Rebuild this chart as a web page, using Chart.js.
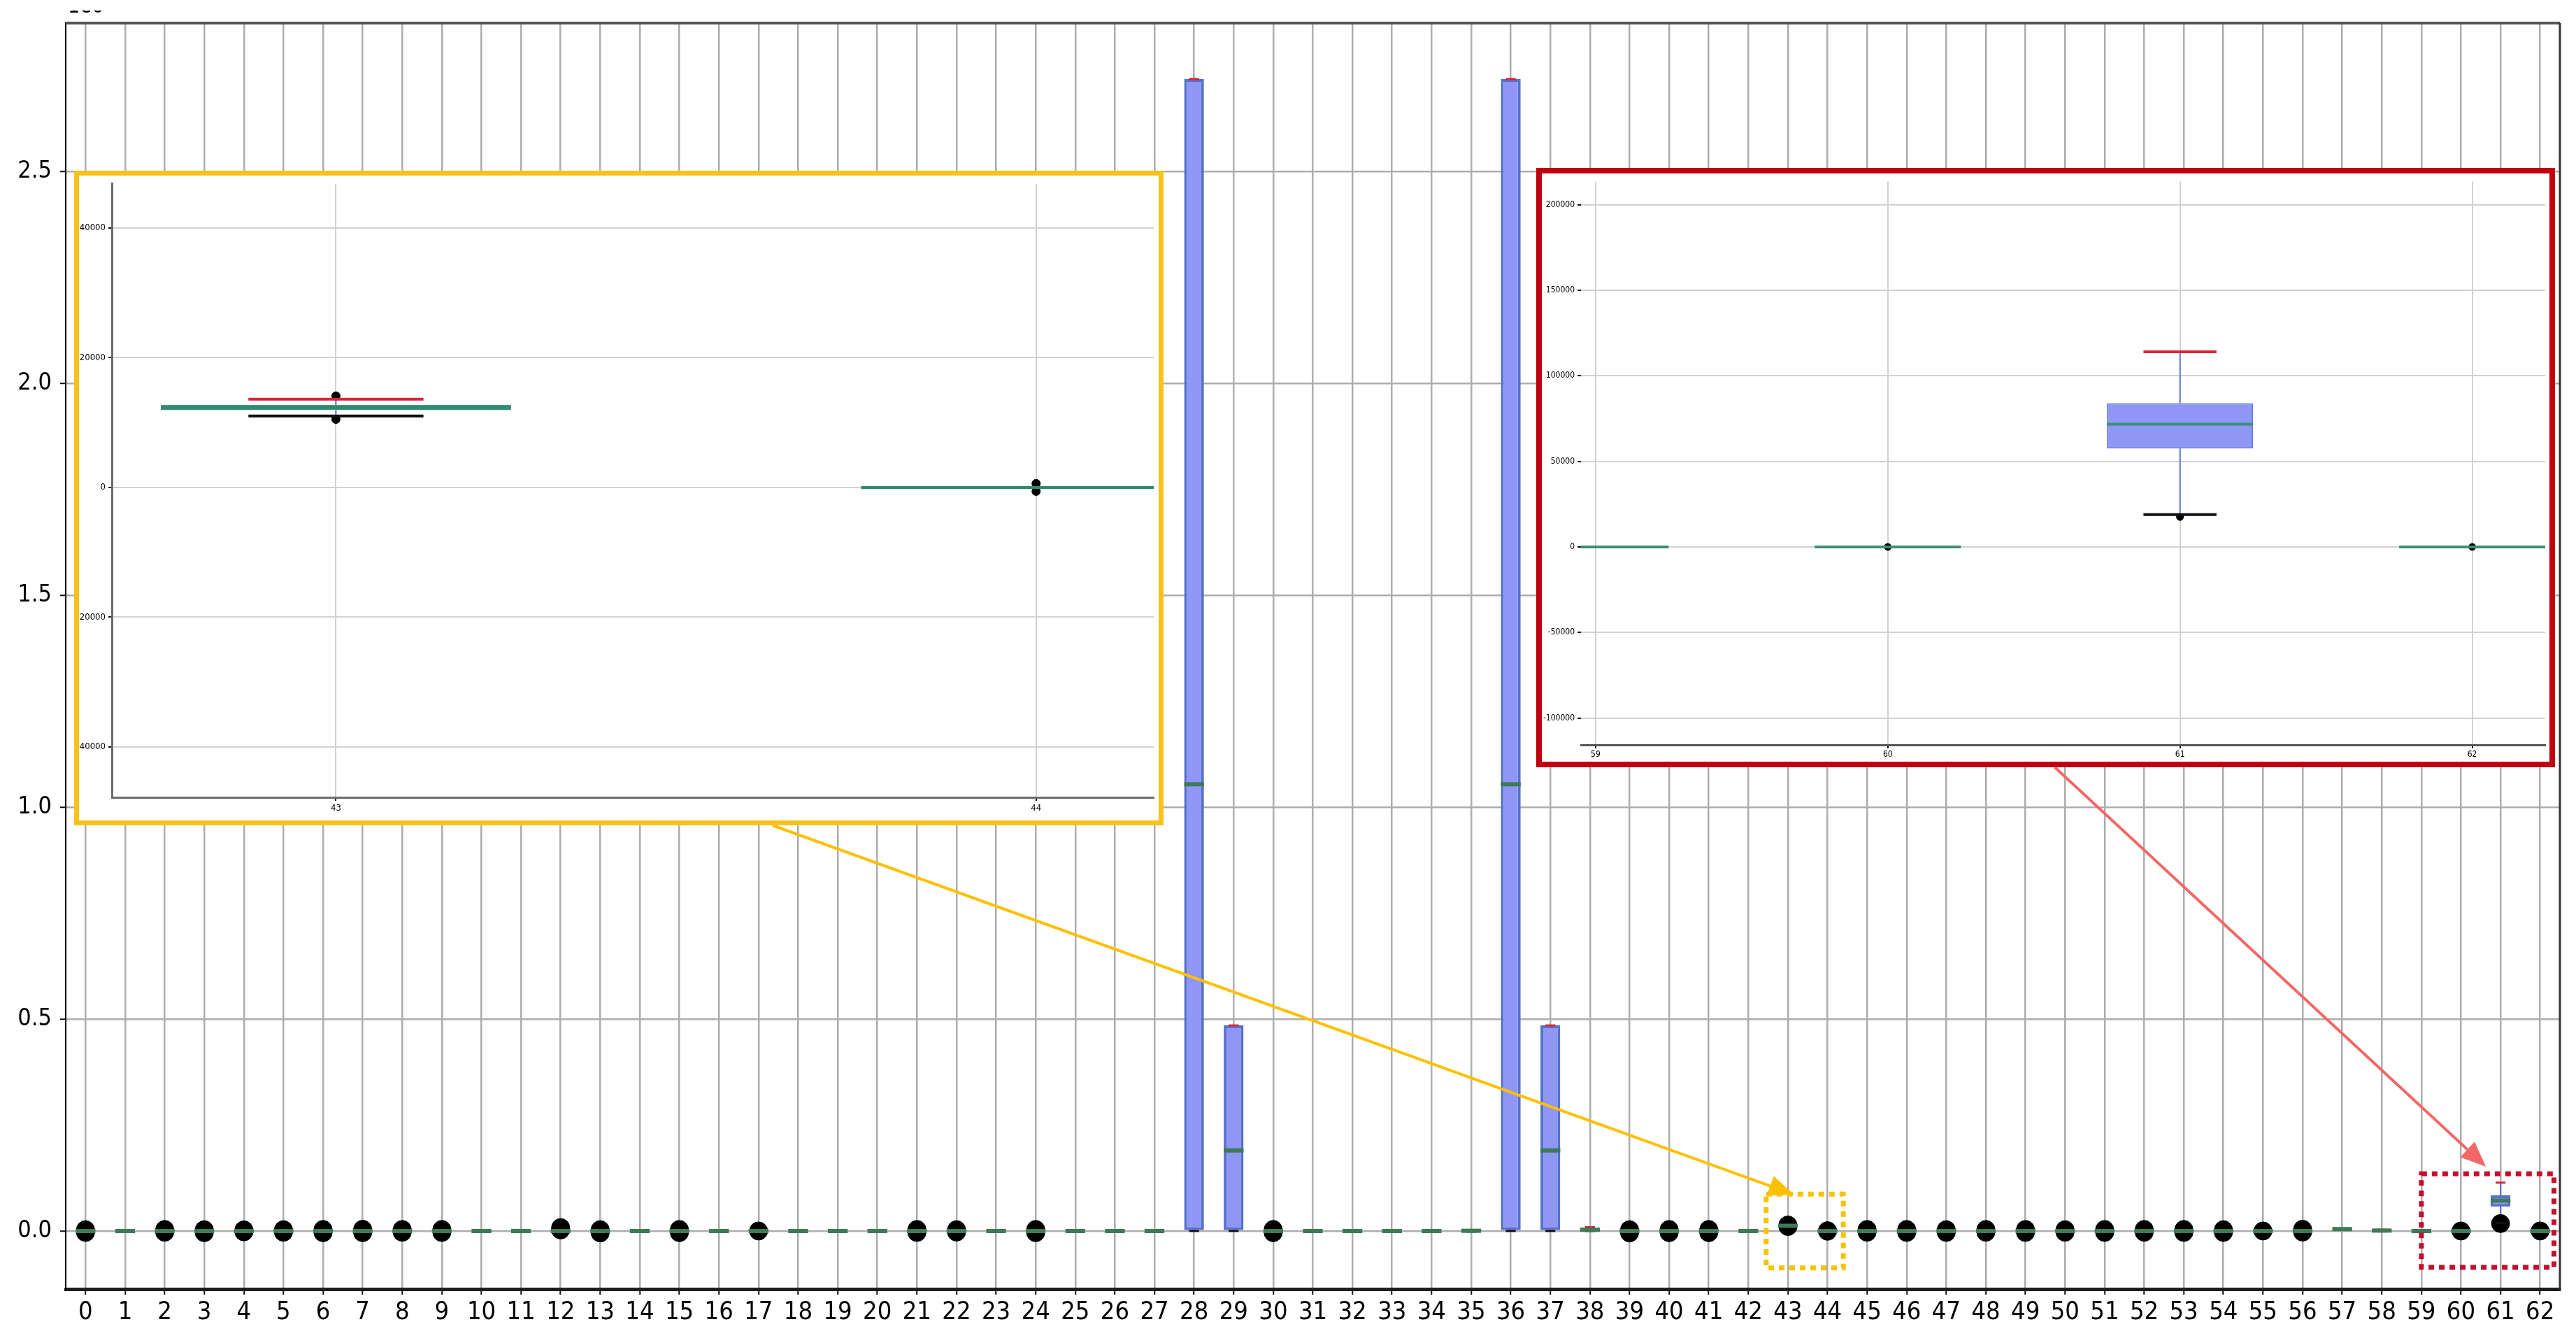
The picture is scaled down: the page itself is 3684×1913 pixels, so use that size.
<!DOCTYPE html>
<html>
<head>
<meta charset="utf-8">
<script src="https://cdn.jsdelivr.net/npm/chart.js@4.4.1/dist/chart.umd.min.js"></script>
<style>
  html, body { margin: 0; padding: 0; background: #fff; }
  #wrap { position: relative; width: 3684px; height: 1913px; overflow: hidden; }
  #main { position: absolute; left: 0; top: 0; }
  .inset { position: absolute; background: #fff; box-sizing: border-box; }
  .inset canvas { display: block; }
</style>
</head>
<body>
<div id="wrap">
  <canvas id="main" width="3684" height="1913"></canvas>
  <div class="inset" id="yellowBox"><canvas id="yellow"></canvas></div>
  <div class="inset" id="redBox"><canvas id="red"></canvas></div>
</div>
<script>
// categories on the x axis
const categories = [0,1,2,3,4,5,6,7,8,9,10,11,12,13,14,15,16,17,18,19,20,
  21,22,23,24,25,26,27,28,29,30,31,32,33,34,35,36,37,38,39,40,41,
  42,43,44,45,46,47,48,49,50,51,52,53,54,55,56,57,58,59,60,61,62];

// box statistics per category
const q1 = [0,0,0,0,0,0,0,0,0,0,0,0,0,0,0,0,0,0,0,0,0,
  0,0,0,0,0,0,0,0,0,0,0,0,0,0,-1500,0,0,0,0,0,0,
  0,11900,0,0,0,0,0,0,0,0,0,0,0,0,0,4000,-1000,0,0,57500,0];
const med = [0,0,0,0,0,0,0,0,0,0,0,0,0,0,0,0,0,0,0,0,0,
  0,0,0,0,0,0,0,1054000,190000,0,0,0,0,0,500,1054000,190000,3000,0,0,0,
  0,12300,0,0,0,0,0,0,0,0,0,0,0,0,0,4500,1000,0,0,71700,0];
const q3 = [0,0,0,0,0,0,0,0,0,0,0,0,0,0,0,0,0,0,0,0,0,
  0,0,0,0,0,0,0,2718000,485000,0,0,0,0,0,2500,2718000,485000,6000,0,0,0,
  0,12700,0,0,0,0,0,0,0,0,0,0,0,0,0,5000,3000,0,0,84000,0];
const whiskerLo = [0,0,0,0,0,0,0,0,0,0,0,0,0,0,0,0,0,0,0,0,0,
  0,0,0,0,0,0,0,0,0,0,0,0,0,0,-1500,0,0,0,0,0,0,
  0,11000,0,0,0,0,0,0,0,0,0,0,0,0,0,4000,-1000,0,0,18900,0];
const whiskerHi = [0,0,0,0,0,0,0,0,0,0,0,0,0,0,0,0,0,0,0,0,0,
  0,0,0,0,0,0,0,2718000,485000,0,0,0,0,0,2500,2718000,485000,9000,0,0,0,
  0,13600,0,0,0,0,0,0,0,0,0,0,0,0,0,5000,3000,0,0,114000,0];

// outliers per category
const fliers = [
  [-3500, 3000], [], [-3000, 3500], [-4000, 3000], [-2000, 2500], [-3000, 3000],
  [-4000, 3500], [-4000, 4000], [-3000, 3500], [-3500, 3500], [], [],
  [2500, 8000], [-4500, 3000], [], [-4000, 3500], [], [0], [], [], [],
  [-3500, 3500], [-2500, 3000], [], [-4000, 3500], [], [], [], [], [],
  [-4000, 3500], [], [], [], [], [], [], [], [],
  [-4500, 3000], [-4000, 3500], [-4000, 3500], [], [10500, 14100], [-600, 600],
  [-3000, 3500], [-3500, 3500], [-3500, 3000], [-3000, 3500], [-3500, 3500],
  [-3000, 3000], [-3500, 3500], [-3000, 3500], [-3500, 3500], [-3500, 3000],
  [0], [-2500, 4000], [], [], [], [0], [17500], [0]
];

// tick values
const mainYTicks = [0, 500000, 1000000, 1500000, 2000000, 2500000];
const yellowYTicks = [-40000, -20000, 0, 20000, 40000];
const redYTicks = [-100000, -50000, 0, 50000, 100000, 150000, 200000];

// zoomed regions marked on the main chart
const zoomRegions = [
  { inset: 'yellow', x0: 42.45, x1: 44.4, y0: -87000, y1: 87000, tipX: 43.15, tipY: 86000, from: 0.641,
    color: '#f5c400', arrow: '#ffc000' },
  { inset: 'red', x0: 59.0, x1: 62.35, y0: -86000, y1: 135000, tipX: 60.63, tipY: 152000, from: 0.509,
    color: '#c2102c', arrow: '#f26868' }
];

const insetLayout = {
  yellow: { left: 106, top: 244, width: 1558, height: 936, border: 7, color: '#f7c21a' },
  red: { left: 2197, top: 240, width: 1457, height: 857, border: 8, color: '#c00010' }
};

const labelFamily = '"DejaVu Sans", sans-serif';

Object.keys(insetLayout).forEach(k => {
  const L = insetLayout[k];
  const box = document.getElementById(k + 'Box');
  box.style.left = L.left + 'px';
  box.style.top = L.top + 'px';
  box.style.width = L.width + 'px';
  box.style.height = L.height + 'px';
  box.style.border = L.border + 'px solid ' + L.color;
  const c = document.getElementById(k);
  c.width = L.width - 2 * L.border;
  c.height = L.height - 2 * L.border;
});

// whiskers, caps and medians drawn through the chart scales
const boxParts = {
  id: 'boxParts',
  beforeDatasetsDraw(chart, args, o) {
    const { ctx, chartArea: a, scales: { x, y } } = chart;
    ctx.save();
    ctx.beginPath(); ctx.rect(a.left, a.top, a.width, a.height); ctx.clip();
    ctx.strokeStyle = o.whiskerColor;
    ctx.lineWidth = o.whiskerWidth;
    o.shown.forEach(i => {
      const px = x.getPixelForValue(categories[i]);
      ctx.beginPath();
      ctx.moveTo(px, y.getPixelForValue(q3[i])); ctx.lineTo(px, y.getPixelForValue(whiskerHi[i]));
      ctx.moveTo(px, y.getPixelForValue(q1[i])); ctx.lineTo(px, y.getPixelForValue(whiskerLo[i]));
      ctx.stroke();
    });
    ctx.restore();
  },
  afterDatasetsDraw(chart, args, o) {
    const { ctx, chartArea: a, scales: { x, y } } = chart;
    ctx.save();
    ctx.beginPath(); ctx.rect(a.left, a.top, a.width, a.height); ctx.clip();
    const hline = (c, v, half, color, w) => {
      ctx.strokeStyle = color; ctx.lineWidth = w;
      ctx.beginPath();
      ctx.moveTo(x.getPixelForValue(c - half), y.getPixelForValue(v));
      ctx.lineTo(x.getPixelForValue(c + half), y.getPixelForValue(v));
      ctx.stroke();
    };
    o.shown.forEach(i => {
      const c = categories[i];
      hline(c, whiskerLo[i], 0.125, '#111111', o.capWidth);
      hline(c, whiskerHi[i], 0.125, '#d8263a', o.capWidth);
      hline(c, med[i], 0.25, o.medianColor, o.medianWidth);
    });
    ctx.restore();
  }
};

function drawArrow(ctx, sx, sy, ex, ey, color, width, head) {
  const ang = Math.atan2(ey - sy, ex - sx);
  const bx = ex - head * Math.cos(ang), by = ey - head * Math.sin(ang);
  ctx.strokeStyle = color; ctx.lineWidth = width;
  ctx.beginPath(); ctx.moveTo(sx, sy); ctx.lineTo(bx, by); ctx.stroke();
  ctx.fillStyle = color;
  ctx.beginPath();
  ctx.moveTo(ex, ey);
  ctx.lineTo(bx + head * 0.42 * Math.sin(ang), by - head * 0.42 * Math.cos(ang));
  ctx.lineTo(bx - head * 0.42 * Math.sin(ang), by + head * 0.42 * Math.cos(ang));
  ctx.closePath(); ctx.fill();
}

// frame, offset text, dashed zoom boxes and arrows of the main chart
const mainExtras = {
  id: 'mainExtras',
  afterDraw(chart) {
    const { ctx, chartArea: a, scales: { x, y } } = chart;
    ctx.save();
    ctx.strokeStyle = '#555'; ctx.lineWidth = 4;
    ctx.beginPath(); ctx.moveTo(a.left, a.top); ctx.lineTo(a.right, a.top); ctx.stroke();
    ctx.lineWidth = 3; ctx.strokeStyle = '#333';
    ctx.beginPath(); ctx.moveTo(a.right, a.top); ctx.lineTo(a.right, a.bottom); ctx.stroke();

    ctx.save();
    ctx.beginPath(); ctx.rect(0, 15, 400, 18); ctx.clip();
    ctx.fillStyle = '#000';
    ctx.font = 'condensed 30px ' + labelFamily;
    ctx.textBaseline = 'bottom';
    ctx.fillText('1e6', a.left + 3, 25);
    ctx.restore();

    zoomRegions.forEach(r => {
      const l = x.getPixelForValue(r.x0), rt = x.getPixelForValue(r.x1);
      const t = y.getPixelForValue(r.y1), b = y.getPixelForValue(r.y0);
      ctx.save();
      ctx.setLineDash([8, 7]);
      ctx.lineWidth = 7; ctx.strokeStyle = r.color;
      ctx.strokeRect(l, t, rt - l, b - t);
      ctx.restore();
      const L = insetLayout[r.inset];
      drawArrow(ctx, L.left + r.from * L.width, L.top + L.height,
        x.getPixelForValue(r.tipX), y.getPixelForValue(r.tipY), r.arrow, 4, 36);
    });
    ctx.restore();
  }
};

function boxChart(canvasId, cfg) {
  const shown = categories.map((c, i) => i).filter(i => categories[i] >= cfg.xMin - 1 && categories[i] <= cfg.xMax + 1);
  const flierPoints = [];
  shown.forEach(i => fliers[i].forEach(v => flierPoints.push({ x: categories[i], y: v })));
  return new Chart(document.getElementById(canvasId), {
    type: 'bar',
    data: {
      datasets: [
        {
          type: 'bar',
          data: shown.map(i => ({ x: categories[i], y: [q1[i], q3[i]] })),
          backgroundColor: cfg.boxFill,
          borderColor: cfg.boxEdge,
          borderWidth: cfg.boxEdgeWidth,
          borderSkipped: false,
          barPercentage: 0.5,
          categoryPercentage: 1,
          order: 2
        },
        {
          type: 'scatter',
          data: flierPoints,
          pointRadius: cfg.flierRadius,
          pointBackgroundColor: '#000',
          pointBorderColor: '#000',
          pointBorderWidth: 1,
          order: 1
        }
      ]
    },
    options: {
      responsive: false,
      animation: false,
      devicePixelRatio: 1,
      layout: { padding: cfg.padding },
      plugins: {
        legend: { display: false },
        tooltip: { enabled: false },
        boxParts: {
          shown: shown,
          whiskerColor: cfg.whiskerColor || cfg.boxEdge,
          whiskerWidth: cfg.whiskerWidth,
          capWidth: cfg.capWidth,
          medianColor: cfg.medianColor,
          medianWidth: cfg.medianWidth
        }
      },
      scales: {
        x: {
          type: 'linear',
          min: cfg.xMin, max: cfg.xMax,
          offset: false,
          afterBuildTicks: s => { s.ticks = categories.filter(c => c >= cfg.xMin && c <= cfg.xMax).map(v => ({ value: v })); },
          afterFit: s => { s.height = cfg.xHeight; },
          ticks: {
            autoSkip: false, maxRotation: 0, minRotation: 0,
            color: '#000', padding: cfg.xPad,
            font: { family: labelFamily, size: cfg.xFont, weight: 'condensed' },
            callback: v => String(v)
          },
          grid: { offset: false, color: cfg.gridColor, lineWidth: cfg.gridWidth,
            tickLength: cfg.tickLen, tickColor: '#111', tickWidth: 2 },
          border: { display: true, color: cfg.xBorder, width: cfg.xBorderWidth }
        },
        y: {
          type: 'linear',
          min: cfg.yMin, max: cfg.yMax,
          afterBuildTicks: s => { s.ticks = cfg.yTicks.map(v => ({ value: v })); },
          afterFit: s => { s.width = cfg.yWidth; },
          ticks: {
            color: '#000', padding: cfg.yPad,
            font: { family: labelFamily, size: cfg.yFont, weight: 'condensed' },
            callback: cfg.yLabel
          },
          grid: { color: cfg.gridColor, lineWidth: cfg.gridWidth,
            tickLength: cfg.tickLen, tickColor: '#111', tickWidth: 2 },
          border: { display: cfg.yBorderWidth > 0, color: cfg.yBorder, width: cfg.yBorderWidth }
        }
      }
    },
    plugins: cfg.extra ? [boxParts, cfg.extra] : [boxParts]
  });
}

boxChart('main', {
  xMin: -0.5, xMax: 62.5, yMin: -137000, yMax: 2850000, yTicks: mainYTicks,
  yLabel: v => (v / 1e6).toFixed(1),
  padding: { left: 0, top: 33, right: 23, bottom: 0 },
  xHeight: 70, yWidth: 94, xFont: 36, yFont: 34, xPad: 4, yPad: 12, tickLen: 8,
  gridColor: '#adadad', gridWidth: 2.5,
  xBorder: '#1e1e1e', xBorderWidth: 5, yBorder: '#000', yBorderWidth: 2,
  boxFill: '#8f96f6', boxEdge: '#5472c8', boxEdgeWidth: 4, whiskerWidth: 2,
  capWidth: 3, medianColor: '#3f7a58', medianWidth: 6, flierRadius: 13,
  extra: mainExtras
});

boxChart('yellow', {
  xMin: 42.68, xMax: 44.168, yMin: -47770, yMax: 46800, yTicks: yellowYTicks,
  yLabel: v => String(v),
  padding: { left: 0, top: 0, right: 0, bottom: 0 },
  xHeight: 33, yWidth: 47, xFont: 13, yFont: 13, xPad: 3, yPad: 4, tickLen: 5,
  gridColor: '#d2d2d2', gridWidth: 2,
  xBorder: '#6b6b6b', xBorderWidth: 3, yBorder: '#6b6b6b', yBorderWidth: 3,
  boxFill: '#5fa892', boxEdge: '#3d9680', boxEdgeWidth: 3, whiskerWidth: 2, whiskerColor: '#5a78cf',
  capWidth: 4, medianColor: '#2f8a70', medianWidth: 4, flierRadius: 6
});

boxChart('red', {
  xMin: 58.95, xMax: 62.25, yMin: -115700, yMax: 213700, yTicks: redYTicks,
  yLabel: v => String(v),
  padding: { left: 0, top: 0, right: 0, bottom: 0 },
  xHeight: 24, yWidth: 56, xFont: 12, yFont: 12, xPad: 2, yPad: 4, tickLen: 5,
  gridColor: '#d2d2d2', gridWidth: 2,
  xBorder: '#555', xBorderWidth: 3, yBorder: '#555', yBorderWidth: 0,
  boxFill: '#8f96f6', boxEdge: '#6478d8', boxEdgeWidth: 2, whiskerWidth: 2,
  capWidth: 4, medianColor: '#3a8f74', medianWidth: 4, flierRadius: 5
});
</script>
</body>
</html>
